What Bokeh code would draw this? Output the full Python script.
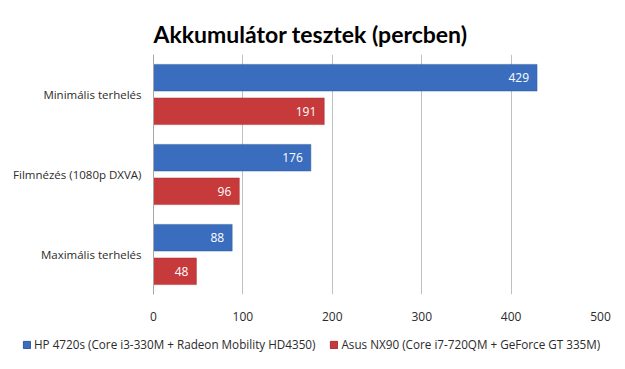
from bokeh.plotting import figure
from bokeh.layouts import column
from bokeh.models import FactorRange, Range1d, ColumnDataSource, Legend, LegendItem, LabelSet
from bokeh.core.properties import value
from bokeh.transform import dodge
from bokeh.embed import file_html
from bokeh.resources import INLINE

title_text = "Akkumulátor  tesztek (percben)"
categories = ["Minimális terhelés", "Filmnézés (1080p DXVA)", "Maximális terhelés"]
series_names = ["HP 4720s (Core i3-330M + Radeon Mobility HD4350)",
                "Asus NX90 (Core i7-720QM + GeForce GT 335M)"]
hp_values = [429, 176, 88]
asus_values = [191, 96, 48]
x_ticks = [0, 100, 200, 300, 400, 500]

BLUE = "#3a6dbd"
RED = "#c73a3b"
BLUE_EDGE = "#2d5a9f"
RED_EDGE = "#a93031"
FONT = "Open Sans"
TXT = "#2b2b2b"

src = ColumnDataSource(dict(cat=categories, hp=hp_values, asus=asus_values,
                            hp_lbl=[str(v) for v in hp_values],
                            asus_lbl=[str(v) for v in asus_values]))

p = figure(width=625, height=323,
           y_range=FactorRange(factors=categories[::-1], range_padding=0),
           x_range=Range1d(0, 500),
           output_backend="svg", toolbar_location=None,
           min_border_left=153, min_border_right=25,
           min_border_top=54, min_border_bottom=26)
p.frame_align = False
p.outline_line_color = None
p.background_fill_color = "white"
p.border_fill_color = "white"

r_hp = p.hbar(y=dodge("cat", 0.21, range=p.y_range), right="hp", left=0, height=0.333,
              source=src, fill_color=BLUE, line_color=BLUE_EDGE, line_width=0.5)
r_asus = p.hbar(y=dodge("cat", -0.21, range=p.y_range), right="asus", left=0, height=0.333,
                source=src, fill_color=RED, line_color=RED_EDGE, line_width=0.5)

for col, lbl, off in (("hp", "hp_lbl", 0.21), ("asus", "asus_lbl", -0.21)):
    ls = LabelSet(x=col, y=dodge("cat", off, range=p.y_range), text=lbl, source=src,
                  text_align="right", text_baseline="middle", x_offset=-8,
                  text_color="white", text_font_size="12px", text_font=value(FONT))
    p.add_layout(ls)

p.title.text = title_text
p.title.align = "left"
p.title.vertical_align = "top"
p.title.offset = 0
p.title.standoff = 10
p.title.text_font = "Lato"
p.title.text_font_size = "23px"
p.title.text_font_style = "bold"
p.title.text_color = "black"

p.xaxis.ticker = x_ticks
p.xaxis.axis_line_color = None
p.xaxis.major_tick_line_color = None
p.xaxis.minor_tick_line_color = None
p.xaxis.major_label_text_font = FONT
p.xaxis.major_label_text_font_size = "12px"
p.xaxis.major_label_text_color = TXT
p.xaxis.major_label_standoff = 11

p.yaxis.axis_line_color = "#a6a6a6"
p.yaxis.major_tick_line_color = None
p.yaxis.minor_tick_line_color = None
p.yaxis.major_label_text_font = FONT
p.yaxis.major_label_text_font_size = "11.5px"
p.yaxis.major_label_text_color = TXT
p.yaxis.major_label_standoff = 6

p.ygrid.grid_line_color = None
p.xgrid.grid_line_color = "#c0c0c0"

# legend strip below the chart
pl = figure(width=625, height=30, x_range=Range1d(0, 1), y_range=Range1d(0, 1),
            output_backend="svg", toolbar_location=None,
            min_border_left=0, min_border_right=0, min_border_top=0, min_border_bottom=0)
pl.frame_align = False
pl.axis.visible = False
pl.grid.visible = False
pl.outline_line_color = None
pl.border_fill_color = "white"
dummy = ColumnDataSource(dict(y=[5], right=[5]))
lr_hp = pl.hbar(y="y", right="right", left=4, height=0.1, source=dummy,
                fill_color=BLUE, line_color=BLUE_EDGE)
lr_asus = pl.hbar(y="y", right="right", left=4, height=0.1, source=dummy,
                  fill_color=RED, line_color=RED_EDGE)
legend = Legend(items=[LegendItem(label=series_names[0], renderers=[lr_hp]),
                       LegendItem(label=series_names[1], renderers=[lr_asus])],
                orientation="horizontal", location=(22, 1),
                glyph_width=9, glyph_height=9, label_standoff=3, spacing=14,
                label_height=16, label_text_baseline="middle",
                label_text_font=FONT, label_text_font_size="11.7px",
                label_text_color=TXT, border_line_color=None,
                background_fill_alpha=0, padding=0, margin=0)
pl.add_layout(legend, "center")

layout = column(p, pl, spacing=0)
open("out.html", "w").write(file_html(layout, INLINE))
